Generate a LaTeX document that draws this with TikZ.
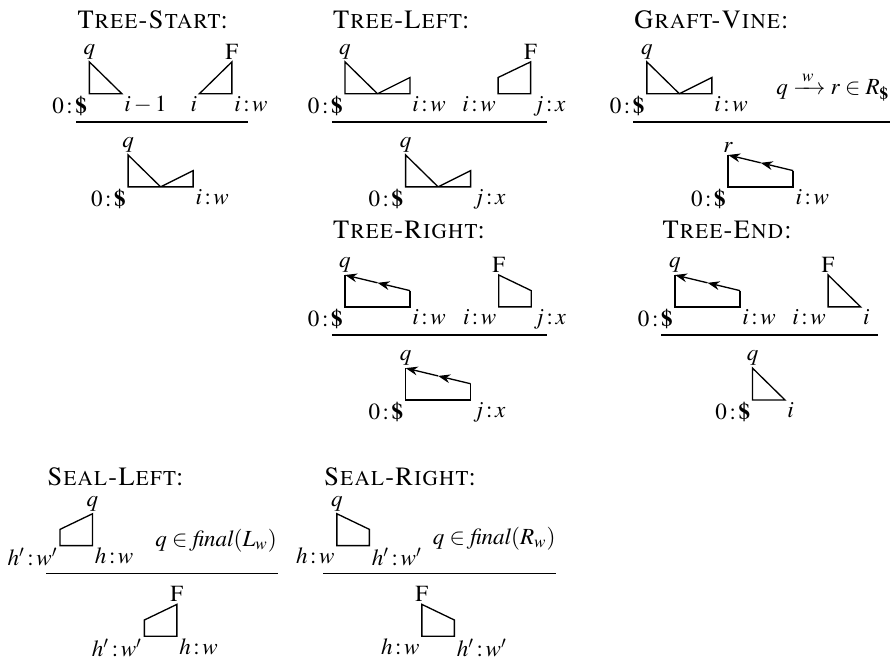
\documentclass[tikz,border=0pt,12pt]{standalone}
\usepackage[T1]{fontenc}
\usepackage{mathptmx}
\usepackage{amsmath}
\usetikzlibrary{arrows.meta,calc}

% item shapes, drawn from their lower left corner
\newcommand{\dropTri}[1]{\draw[shift={(#1)}] (0,0.51) -- (0,0) -- (0.52,0) -- cycle;}
\newcommand{\riseTri}[1]{\draw[shift={(#1)}] (0,0) -- (0.52,0) -- (0.52,0.51) -- cycle;}
\newcommand{\twoTri}[1]{\draw[shift={(#1)}] (0,0.51) -- (0.52,0) -- (1.04,0.26) -- (1.04,0) -- (0,0) -- cycle;}
\newcommand{\riseTrap}[1]{\draw[shift={(#1)}] (0,0.26) -- (0.52,0.51) -- (0.52,0) -- (0,0) -- cycle;}
\newcommand{\dropTrap}[1]{\draw[shift={(#1)}] (0,0.51) -- (0.52,0.26) -- (0.52,0) -- (0,0) -- cycle;}
\newcommand{\vineBox}[1]{%
	\draw[shift={(#1)}] (0,0.51) -- (0,0) -- (1.04,0) -- (1.04,0.26);
	\draw[shift={(#1)},tip] (1.04,0.26) -- (0.52,0.385);
	\draw[shift={(#1)},tip] (0.52,0.385) -- (0,0.51);}
\newcommand{\dol}{\textbf{\$}}
\newcommand{\cl}{\mskip2mu{:}\mskip2mu}

\begin{document}
\begin{tikzpicture}[
		line width=0.6pt,
		tip/.style={-{Stealth[length=5.5pt,width=4pt]}},
		lab/.style={inner sep=0.8pt, font=\fontsize{10.5}{12}\selectfont},
		cond/.style={anchor=base east, inner sep=0pt, font=\fontsize{10.5}{12}\selectfont},
		title/.style={anchor=west, inner sep=0pt}
		]
		\useasboundingbox (0,0) rectangle (14.24,10.56);
		
		% --------------------------------------------------
		% Tree-Start
		% --------------------------------------------------
		\coordinate (TS) at (1.22,8.61);
		\coordinate (TSe) at ($(TS)+(2.74,0)$);
		\node[title] (tsT) at ($(TS)+(0,1.64)$) {\textsc{Tree-Start:}};
		
		\coordinate (TS1) at ($(TS)+(0.21,0.45)$);
		\coordinate (TS2) at ($(TS)+(1.97,0.45)$);
		\coordinate (TS3) at ($(TS)+(0.83,-1.04)$);
		\dropTri{TS1}
		\riseTri{TS2}
		\twoTri{TS3}
		\draw (TS) -- (TSe);
		
		\node[above,lab] (tsq) at ($(TS1)+(0,0.51)$) {$q$};
		\node[below left,lab] (tsa) at (TS1) {$0\cl\dol$};
		\node[below right,lab] (tsb) at ($(TS1)+(0.52,0)$) {$i-1$};
		\node[above,lab] (tsF) at ($(TS2)+(0.52,0.51)$) {F};
		\node[below left,lab] (tsc) at (TS2) {$i$};
		\node[below right,lab] (tsd) at ($(TS2)+(0.52,0)$) {$i\cl w$};
		\node[above,lab] (tsq2) at ($(TS3)+(0,0.51)$) {$q$};
		\node[below left,lab] (tse) at (TS3) {$0\cl\dol$};
		\node[below right,lab] (tsf) at ($(TS3)+(1.04,0)$) {$i\cl w$};
		
		% --------------------------------------------------
		% Tree-Left
		% --------------------------------------------------
		\coordinate (TL) at (5.31,8.61);
		\coordinate (TLe) at ($(TL)+(3.44,0)$);
		\node[title] (tlT) at ($(TL)+(0,1.64)$) {\textsc{Tree-Left:}};
		
		\coordinate (TL1) at ($(TL)+(0.21,0.45)$);
		\coordinate (TL2) at ($(TL)+(2.66,0.45)$);
		\coordinate (TL3) at ($(TL)+(1.18,-1.04)$);
		\twoTri{TL1}
		\riseTrap{TL2}
		\twoTri{TL3}
		\draw (TL) -- (TLe);
		
		\node[above,lab] (tlq) at ($(TL1)+(0,0.51)$) {$q$};
		\node[below left,lab] (tla) at (TL1) {$0\cl\dol$};
		\node[below right,lab] (tlb) at ($(TL1)+(1.04,0)$) {$i\cl w$};
		\node[above,lab] (tlF) at ($(TL2)+(0.52,0.51)$) {F};
		\node[below left,lab] (tlc) at (TL2) {$i\cl w$};
		\node[below right,lab] (tld) at ($(TL2)+(0.52,0)$) {$j\cl x$};
		\node[above,lab] (tlq2) at ($(TL3)+(0,0.51)$) {$q$};
		\node[below left,lab] (tle) at (TL3) {$0\cl\dol$};
		\node[below right,lab] (tlf) at ($(TL3)+(1.04,0)$) {$j\cl x$};
		
		% --------------------------------------------------
		% Graft-Vine
		% --------------------------------------------------
		\coordinate (GV) at (10.13,8.61);
		\coordinate (GVe) at ($(GV)+(4.11,0)$);
		\node[title] (gvT) at ($(GV)+(0,1.64)$) {\textsc{Graft-Vine:}};
		
		\coordinate (GV1) at ($(GV)+(0.22,0.45)$);
		\coordinate (GV3) at ($(GV)+(1.52,-1.04)$);
		\twoTri{GV1}
		\vineBox{GV3}
		\draw (GV) -- (GVe);
		
		\node[above,lab] (gvq) at ($(GV1)+(0,0.51)$) {$q$};
		\node[below left,lab] (gva) at (GV1) {$0\cl\dol$};
		\node[below right,lab] (gvb) at ($(GV1)+(1.04,0)$) {$i\cl w$};
		\node[cond] (gvs) at ($(GVe)+(0,0.44)$)
		{$q\xrightarrow{\;w\;}r\in R_{\dol}$};
		\node[above,lab] (gvr) at ($(GV3)+(0,0.51)$) {$r$};
		\node[below left,lab] (gve) at (GV3) {$0\cl\dol$};
		\node[below right,lab] (gvf) at ($(GV3)+(1.04,0)$) {$i\cl w$};
		
		% --------------------------------------------------
		% Tree-Right
		% --------------------------------------------------
		\coordinate (TR) at (5.31,5.20);
		\coordinate (TRe) at ($(TR)+(3.44,0)$);
		\node[title] (trT) at ($(TR)+(0,1.68)$) {\textsc{Tree-Right:}};
		
		\coordinate (TR1) at ($(TR)+(0.21,0.45)$);
		\coordinate (TR2) at ($(TR)+(2.67,0.45)$);
		\coordinate (TR3) at ($(TR)+(1.18,-1.04)$);
		\vineBox{TR1}
		\dropTrap{TR2}
		\vineBox{TR3}
		\draw (TR) -- (TRe);
		
		\node[above,lab] (trq) at ($(TR1)+(0,0.51)$) {$q$};
		\node[below left,lab] (tra) at (TR1) {$0\cl\dol$};
		\node[below right,lab] (trb) at ($(TR1)+(1.04,0)$) {$i\cl w$};
		\node[above,lab] (trF) at ($(TR2)+(0,0.51)$) {F};
		\node[below left,lab] (trc) at (TR2) {$i\cl w$};
		\node[below right,lab] (trd) at ($(TR2)+(0.52,0)$) {$j\cl x$};
		\node[above,lab] (trq2) at ($(TR3)+(0,0.51)$) {$q$};
		\node[below left,lab] (tre) at (TR3) {$0\cl\dol$};
		\node[below right,lab] (trf) at ($(TR3)+(1.04,0)$) {$j\cl x$};
		
		% --------------------------------------------------
		% Tree-End
		% --------------------------------------------------
		\coordinate (TE) at (10.58,5.20);
		\coordinate (TEe) at ($(TE)+(3.46,0)$);
		\node[title] (teT) at ($(TE)+(0,1.68)$) {\textsc{Tree-End:}};
		
		\coordinate (TE1) at ($(TE)+(0.22,0.45)$);
		\coordinate (TE2) at ($(TE)+(2.67,0.45)$);
		\coordinate (TE3) at ($(TE)+(1.46,-1.04)$);
		\vineBox{TE1}
		\dropTri{TE2}
		\dropTri{TE3}
		\draw (TE) -- (TEe);
		
		\node[above,lab] (teq) at ($(TE1)+(0,0.51)$) {$q$};
		\node[below left,lab] (tea) at (TE1) {$0\cl\dol$};
		\node[below right,lab] (teb) at ($(TE1)+(1.04,0)$) {$i\cl w$};
		\node[above,lab] (teF) at ($(TE2)+(0,0.51)$) {F};
		\node[below left,lab] (tec) at (TE2) {$i\cl w$};
		\node[below right,lab] (ted) at ($(TE2)+(0.52,0)$) {$i$};
		\node[above,lab] (teq2) at ($(TE3)+(0,0.51)$) {$q$};
		\node[below left,lab] (tee) at (TE3) {$0\cl\dol$};
		\node[below right,lab] (tef) at ($(TE3)+(0.52,0)$) {$i$};
		
		% --------------------------------------------------
		% Seal-Left
		% --------------------------------------------------
		\coordinate (SL) at (0.74,1.38);
		\coordinate (SLe) at ($(SL)+(3.70,0)$);
		\node[title] (slT) at ($(SL)+(0,1.55)$) {\textsc{Seal-Left:}};
		
		\coordinate (SL1) at ($(SL)+(0.22,0.45)$);
		\coordinate (SL3) at ($(SL)+(1.57,-1.00)$);
		\riseTrap{SL1}
		\riseTrap{SL3}
		\draw (SL) -- (SLe);
		
		\node[above,lab] (slq) at ($(SL1)+(0.52,0.51)$) {$q$};
		\node[below left,lab] (sla) at (SL1) {$h'\cl w'$};
		\node[below right,lab] (slb) at ($(SL1)+(0.52,0)$) {$h\cl w$};
		\node[cond] (sls) at ($(SLe)+(0,0.44)$) {$q\in\textit{final}(L_w)$};
		\node[above,lab] (slF) at ($(SL3)+(0.52,0.51)$) {F};
		\node[below left,lab] (slc) at (SL3) {$h'\cl w'$};
		\node[below right,lab] (sld) at ($(SL3)+(0.52,0)$) {$h\cl w$};
		
		% --------------------------------------------------
		% Seal-Right
		% --------------------------------------------------
		\coordinate (SR) at (5.17,1.38);
		\coordinate (SRe) at ($(SR)+(3.73,0)$);
		\node[title] (srT) at ($(SR)+(0,1.55)$) {\textsc{Seal-Right:}};
		
		\coordinate (SR1) at ($(SR)+(0.22,0.45)$);
		\coordinate (SR3) at ($(SR)+(1.58,-1.00)$);
		\dropTrap{SR1}
		\dropTrap{SR3}
		\draw (SR) -- (SRe);
		
		\node[above,lab] (srq) at ($(SR1)+(0,0.51)$) {$q$};
		\node[below left,lab] (sra) at (SR1) {$h\cl w$};
		\node[below right,lab] (srb) at ($(SR1)+(0.52,0)$) {$h'\cl w'$};
		\node[cond] (srs) at ($(SRe)+(0,0.47)$) {$q\in\textit{final}(R_w)$};
		\node[above,lab] (srF) at ($(SR3)+(0,0.51)$) {F};
		\node[below left,lab] (src) at (SR3) {$h\cl w$};
		\node[below right,lab] (srd) at ($(SR3)+(0.52,0)$) {$h'\cl w'$};
		
	\end{tikzpicture}
\end{document}
